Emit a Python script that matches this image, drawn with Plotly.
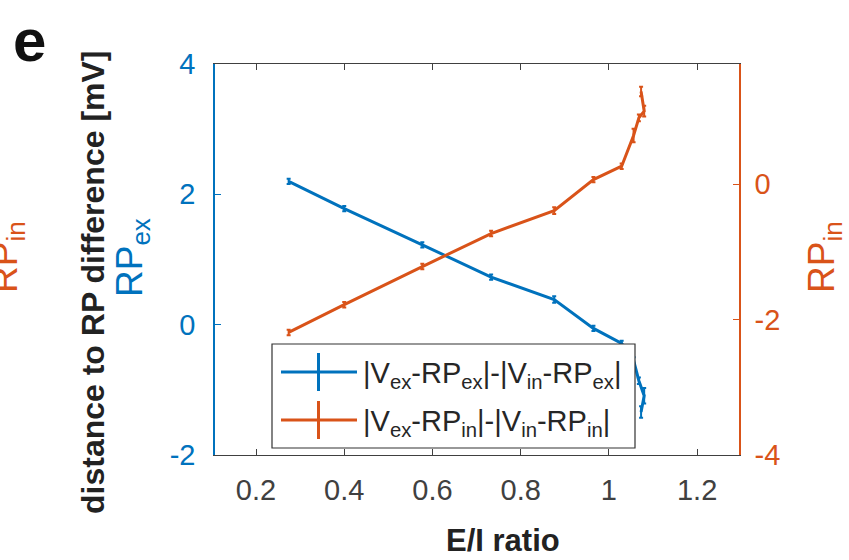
import plotly.graph_objects as go

# ---- data ----
ei_ratio = [0.274, 0.400, 0.577, 0.733, 0.876, 0.965, 1.029, 1.056, 1.068, 1.080, 1.073]
rp_ex_diff = [2.20, 1.78, 1.226, 0.728, 0.385, -0.057, -0.288, -0.55, -0.86, -1.09, -1.34]
rp_ex_err = [0.04, 0.04, 0.04, 0.04, 0.05, 0.04, 0.04, 0.05, 0.05, 0.12, 0.09]
rp_in_diff = [-2.19, -1.78, -1.217, -0.729, -0.392, 0.067, 0.266, 0.72, 0.98, 1.08, 1.37]
rp_in_err = [0.04, 0.04, 0.04, 0.04, 0.05, 0.04, 0.04, 0.10, 0.05, 0.08, 0.07]

x_ticks = [0.2, 0.4, 0.6, 0.8, 1.0, 1.2]
x_ticklabels = ["0.2", "0.4", "0.6", "0.8", "1", "1.2"]
y_left_ticks = [-2, 0, 2, 4]
y_left_ticklabels = ["-2", "0", "2", "4"]
y_right_ticks = [-4, -2, 0]
y_right_ticklabels = ["-4", "-2", "0"]

legend_labels = [
    "|V<sub>ex</sub>-RP<sub>ex</sub>|-|V<sub>in</sub>-RP<sub>ex</sub>|",
    "|V<sub>ex</sub>-RP<sub>in</sub>|-|V<sub>in</sub>-RP<sub>in</sub>|",
]

BLUE = "#0072BD"
ORANGE = "#D95319"
GRAY = "#404040"
FONT = "Liberation Sans, Arial, Helvetica, sans-serif"

W, H = 849, 560
L, R, T, B = 215, 110, 64, 105
PW, PH = W - L - R, H - T - B


def px(xp):
    return (xp - L) / PW


def py(yp):
    return (H - B - yp) / PH


fig = go.Figure()
fig.add_trace(go.Scatter(
    x=ei_ratio, y=rp_ex_diff, mode="lines",
    line=dict(color=BLUE, width=3),
    error_y=dict(type="data", array=rp_ex_err, color=BLUE, thickness=2, width=2),
    showlegend=False, yaxis="y"))
fig.add_trace(go.Scatter(
    x=ei_ratio, y=rp_in_diff, mode="lines",
    line=dict(color=ORANGE, width=3),
    error_y=dict(type="data", array=rp_in_err, color=ORANGE, thickness=2, width=2),
    showlegend=False, yaxis="y2"))

fig.update_layout(
    width=W, height=H,
    margin=dict(l=L, r=R, t=T, b=B, pad=0),
    paper_bgcolor="white", plot_bgcolor="white",
    font=dict(family=FONT, size=29, color=GRAY),
    showlegend=False,
    xaxis=dict(range=[0.107, 1.295], tickvals=x_ticks, ticktext=x_ticklabels,
               ticks="inside", ticklen=6, tickcolor=GRAY, tickwidth=1,
               showline=True, linecolor=GRAY, linewidth=1, mirror="ticks",
               showgrid=False, zeroline=False, automargin=False,
               tickfont=dict(size=29, color=GRAY), ticklabelstandoff=9),
    yaxis=dict(range=[-2, 4], tickvals=y_left_ticks, ticktext=y_left_ticklabels,
               ticks="inside", ticklen=6, tickcolor=BLUE, tickwidth=1,
               showline=True, linecolor=BLUE, linewidth=1.5,
               showgrid=False, zeroline=False, automargin=False,
               tickfont=dict(size=29, color=BLUE), ticklabelstandoff=12),
    yaxis2=dict(range=[-4, 1.775], tickvals=y_right_ticks, ticktext=y_right_ticklabels,
                overlaying="y", side="right",
                ticks="inside", ticklen=6, tickcolor=ORANGE, tickwidth=1,
                showline=True, linecolor=ORANGE, linewidth=1.5,
                showgrid=False, zeroline=False, automargin=False,
                tickfont=dict(size=29, color=ORANGE), ticklabelstandoff=8),
)

# ---- legend drawn manually (MATLAB style) ----
shapes = []
shapes.append(dict(type="rect", xref="paper", yref="paper",
                   x0=px(272), x1=px(635), y0=py(448), y1=py(344),
                   line=dict(color="#333333", width=1.2), fillcolor="white", layer="above"))
rows = [(372, BLUE), (420, ORANGE)]
annotations = []
for (yy, col), lab in zip(rows, legend_labels):
    shapes.append(dict(type="line", xref="paper", yref="paper",
                       x0=px(281), x1=px(357), y0=py(yy), y1=py(yy),
                       line=dict(color=col, width=3), layer="above"))
    shapes.append(dict(type="line", xref="paper", yref="paper",
                       x0=px(318.5), x1=px(318.5), y0=py(yy + 19), y1=py(yy - 19),
                       line=dict(color=col, width=3), layer="above"))
    annotations.append(dict(xref="paper", yref="paper", x=px(361), y=py(yy),
                            text=lab, showarrow=False, xanchor="left", yanchor="middle",
                            yshift=-3, font=dict(size=29, color="#262626", family=FONT)))

# axis labels
annotations.append(dict(xref="paper", yref="paper", x=px(502.5), y=py(540),
                        text="<b>E/I ratio</b>", showarrow=False,
                        xanchor="center", yanchor="middle",
                        font=dict(size=31, color="#222222", family=FONT)))
annotations.append(dict(xref="paper", yref="paper", x=px(93), y=py(282),
                        text="<b>distance to RP difference [mV]</b>", showarrow=False,
                        textangle=-90, xanchor="center", yanchor="middle",
                        font=dict(size=32, color="#222222", family=FONT)))
annotations.append(dict(xref="paper", yref="paper", x=px(132), y=py(258),
                        text="RP<sub>ex</sub>", showarrow=False,
                        textangle=-90, xanchor="center", yanchor="middle",
                        font=dict(size=37, color=BLUE, family=FONT)))
annotations.append(dict(xref="paper", yref="paper", x=px(7), y=py(257),
                        text="RP<sub>in</sub>", showarrow=False,
                        textangle=-90, xanchor="center", yanchor="middle",
                        font=dict(size=37, color=ORANGE, family=FONT)))
annotations.append(dict(xref="paper", yref="paper", x=px(824), y=py(257),
                        text="RP<sub>in</sub>", showarrow=False,
                        textangle=-90, xanchor="center", yanchor="middle",
                        font=dict(size=37, color=ORANGE, family=FONT)))
annotations.append(dict(xref="paper", yref="paper", x=px(29), y=py(40),
                        text="<b>e</b>", showarrow=False,
                        xanchor="center", yanchor="middle",
                        font=dict(size=60, color="#111111", family=FONT)))

fig.update_layout(shapes=shapes, annotations=annotations)
fig.write_html("out.html",
               config={"displayModeBar": False},
               post_script="document.body.style.margin='0';document.body.style.overflow='hidden';")
